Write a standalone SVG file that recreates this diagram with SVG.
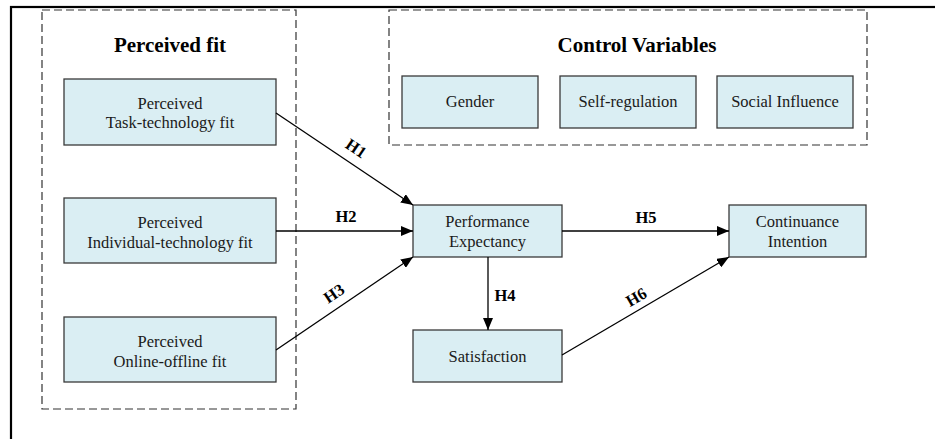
<svg xmlns="http://www.w3.org/2000/svg" width="935" height="439" viewBox="0 0 935 439">
<style>
.node{fill:#DAEEF3;stroke:#3a3a3a;stroke-width:1.3}
.grp{fill:none;stroke:#333;stroke-width:1.2;stroke-dasharray:8,4}
text{font-family:"Times New Roman","Liberation Serif",serif}
.t{font-size:16.5px;fill:#1a1a1a;text-anchor:middle}
.title{font-size:21px;font-weight:bold;fill:#000;text-anchor:middle}
.h{font-size:16.5px;font-weight:bold;fill:#000;text-anchor:middle}
.c{fill:none;stroke:#000;stroke-width:1.3}
</style>
<defs>
<marker id="arr" viewBox="0 0 12 10" refX="12" refY="5" markerWidth="12" markerHeight="10" markerUnits="userSpaceOnUse" orient="auto">
<path d="M0,0 L12,5 L0,10 Z" fill="#000"/>
</marker>
</defs>
<rect width="935" height="439" fill="#fff"/>
<rect x="11" y="7" width="940" height="450" fill="none" stroke="#000" stroke-width="2.2"/>
<g id="group-perceived-fit">
<rect class="grp" x="42" y="10" width="254" height="399"/>
<text class="title" x="170" y="52">Perceived fit</text>
</g>
<g id="group-control-variables">
<rect class="grp" x="389" y="10" width="478" height="135"/>
<text class="title" x="637" y="52">Control Variables</text>
</g>
<g id="node-ttf">
<rect class="node" x="64" y="79" width="212" height="66"/>
<text class="t" x="170" y="109">Perceived</text>
<text class="t" x="170" y="128">Task-technology fit</text>
</g>
<g id="node-itf">
<rect class="node" x="64" y="198" width="212" height="65"/>
<text class="t" x="170" y="228">Perceived</text>
<text class="t" x="170" y="248">Individual-technology fit</text>
</g>
<g id="node-oof">
<rect class="node" x="64" y="317" width="212" height="65"/>
<text class="t" x="170" y="347">Perceived</text>
<text class="t" x="170" y="367">Online-offline fit</text>
</g>
<g id="node-gender">
<rect class="node" x="402" y="76" width="136" height="52"/>
<text class="t" x="470" y="107">Gender</text>
</g>
<g id="node-self-regulation">
<rect class="node" x="560" y="76" width="136" height="52"/>
<text class="t" x="628" y="107">Self-regulation</text>
</g>
<g id="node-social-influence">
<rect class="node" x="717" y="76" width="136" height="52"/>
<text class="t" x="785" y="107">Social Influence</text>
</g>
<g id="node-pe">
<rect class="node" x="413" y="205" width="149" height="52"/>
<text class="t" x="487.5" y="227">Performance</text>
<text class="t" x="487.5" y="247">Expectancy</text>
</g>
<g id="node-ci">
<rect class="node" x="729" y="205" width="137" height="52"/>
<text class="t" x="797.5" y="227">Continuance</text>
<text class="t" x="797.5" y="247">Intention</text>
</g>
<g id="node-satisfaction">
<rect class="node" x="413" y="330" width="149" height="52"/>
<text class="t" x="487.5" y="362">Satisfaction</text>
</g>
<g id="connectors">
<line class="c" x1="276" y1="113" x2="413" y2="205" marker-end="url(#arr)"/>
<line class="c" x1="276" y1="231" x2="413" y2="231" marker-end="url(#arr)"/>
<line class="c" x1="276" y1="350" x2="413" y2="257" marker-end="url(#arr)"/>
<line class="c" x1="488" y1="257" x2="488" y2="330" marker-end="url(#arr)"/>
<line class="c" x1="562" y1="231" x2="729" y2="231" marker-end="url(#arr)"/>
<line class="c" x1="562" y1="355" x2="729" y2="257" marker-end="url(#arr)"/>
<text class="h" transform="translate(353,153) rotate(34)">H1</text>
<text class="h" x="346" y="222">H2</text>
<text class="h" transform="translate(337,298) rotate(-34)">H3</text>
<text class="h" x="505" y="301">H4</text>
<text class="h" x="646" y="223">H5</text>
<text class="h" transform="translate(639,302) rotate(-30.4)">H6</text>
</g>
</svg>
